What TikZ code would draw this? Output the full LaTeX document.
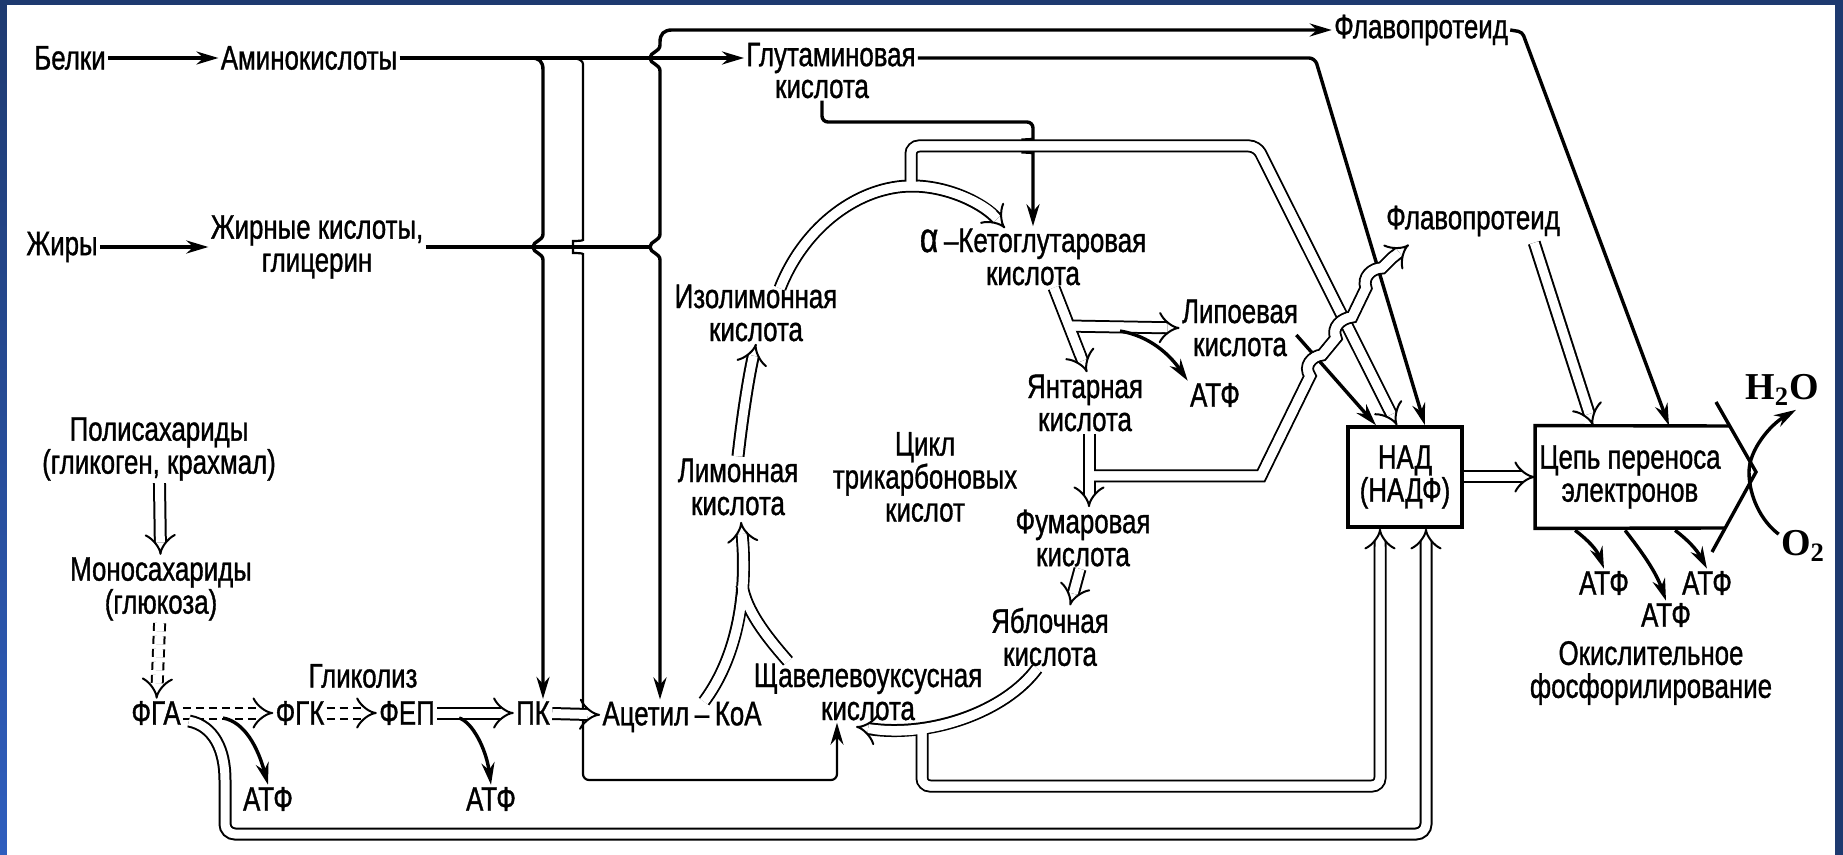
\documentclass[tikz,border=0pt]{standalone}
\usepackage{fontspec}
\setmainfont{Liberation Sans}[FakeStretch=0.76,FakeBold=1]
\newfontfamily\chemfont{Liberation Serif}
\usetikzlibrary{arrows.meta,calc}

\definecolor{framenavy}{HTML}{1E3A70}
\definecolor{frameblue}{HTML}{2F5EBE}

\newcommand\vhop[2]{-- (#1,#2-13) .. controls (#1,#2-6) and (#1-10,#2-6) .. (#1-10,#2) .. controls (#1-10,#2+6) and (#1,#2+6) .. (#1,#2+13)}

\begin{document}
\begin{tikzpicture}[x=0.5pt, y=-0.5pt,
  lbl/.style={align=center, inner sep=1pt, font=\fontsize{17}{16.5}\selectfont},
  chem/.style={inner sep=1pt, font=\chemfont\fontsize{19}{20}\selectfont\bfseries},
  link/.style={line width=1.7pt},
  thinlink/.style={line width=1.1pt},
  flow/.style={link, -{Stealth[length=11pt,width=6.5pt]}},
  dblline/.style={double, double distance=4.5pt, line width=1pt},
  dbl/.style={dblline, -{Implies}},
  dsh/.style={dbl, dash pattern=on 4pt off 2.5pt},
  core/.style={draw=white, line width=4.5pt, shorten >=9pt}]
\useasboundingbox (0,0) rectangle (1843,855);
\fill[framenavy] (0,0) rectangle (1843,855);
\shade[top color=framenavy, bottom color=frameblue] (0,0) rectangle (7,855);
\fill[white] (7,5) rectangle (1835,855);

\node[lbl] (belki) at (70,58) {Белки};
\node[lbl] (amino) at (309,58) {Аминокислоты};
\node[lbl] (zhiry) at (62,247) {Жиры};
\node[lbl] (zhk) at (317,247) {Жирные кислоты,\\глицерин};
\node[lbl] (glu) at (831,58) {Глутаминовая};
\node[lbl] (glukis) at (822,89) {кислота};
\node[lbl] (flavo1) at (1421,30) {Флавопротеид};
\node[lbl] (flavo2) at (1473,221) {Флавопротеид};
\node[lbl] (akg) at (1033,257) {{\fontsize{21}{16.5}\selectfont α}\,–Кетоглутаровая\\кислота};
\node[lbl] (iso) at (756,313) {Изолимонная\\кислота};
\node[lbl] (cit) at (738,487) {Лимонная\\кислота};
\node[lbl] (cycle) at (925,477) {Цикл\\трикарбоновых\\кислот};
\node[lbl] (succ) at (1085,403) {Янтарная\\кислота};
\node[lbl] (lipo) at (1240,328) {Липоевая\\кислота};
\node[lbl] (atp3) at (1215,395) {АТФ};
\node[lbl] (fum) at (1083,538) {Фумаровая\\кислота};
\node[lbl] (mal) at (1050,637) {Яблочная\\кислота};
\node[lbl] (oaa) at (868,692) {Щавелевоуксусная\\кислота};
\node[lbl] (acoa) at (682,717) {Ацетил\,–\,КоА};
\node[lbl] (pk) at (533,713) {ПК};
\node[lbl] (fep) at (407,713) {ФЕП};
\node[lbl] (fgk) at (300,713) {ФГК};
\node[lbl] (fga) at (156,713) {ФГА};
\node[lbl] (glyc) at (363,676) {Гликолиз};
\node[lbl] (atp1) at (268,799) {АТФ};
\node[lbl] (atp2) at (491,799) {АТФ};
\node[lbl] (poly) at (159,449) {Полисахариды\\(гликоген, крахмал)};
\node[lbl] (mono) at (161,589) {Моносахариды\\(глюкоза)};
\node[lbl, draw, line width=1.7pt, minimum width=57pt, minimum height=50pt] (nad) at (1405,477) {НАД\\(НАДФ)};
\node[lbl, minimum width=94.5pt, minimum height=51pt] (chain) at (1630,477) {Цепь переноса\\электронов};
\node[chem] (h2o) at (1782,390) {H\textsubscript{2}O};
\node[chem] (o2) at (1803,546) {O\textsubscript{2}};
\node[lbl] (atp4) at (1604,583) {АТФ};
\node[lbl] (atp5) at (1666,615) {АТФ};
\node[lbl] (atp6) at (1707,583) {АТФ};
\node[lbl] (oxphos) at (1651,673) {Окислительное\\фосфорилирование};

\coordinate (v1) at (543,58);
\coordinate (v3) at (660,30);

\draw[flow] (belki) -- (amino);
\draw[flow] (zhiry) -- (zhk);
\draw[flow] (amino) -- (glu);
\draw[link] (zhk.east) -- (650,247);
\draw[flow] (531,58) .. controls (539,58) and (543,61) .. (543,70) \vhop{543}{247} -- (v1 |- pk.north);
\draw[thinlink, -{Stealth[length=11pt,width=6.5pt]}, rounded corners=3pt] (571,58) .. controls (579,58) and (583,61) .. (583,70) \vhop{583}{247} -- (583,780) -- (837,780) -- ($(oaa.south)+(-31,0)$);
\draw[link, {Stealth[length=11pt,width=6.5pt]}-{Stealth[length=11pt,width=6.5pt]}] (flavo1.west) -- (672,30) .. controls (664,30) and (660,34) .. (660,42) \vhop{660}{58} \vhop{660}{247} -- (v3 |- acoa.north);

\draw[dbl] (poly) -- (mono);
\draw[dsh] (mono) -- (fga);
\draw[dsh] (fga) -- (fgk);
\draw[dsh] (fgk) -- (fep);
\draw[dbl] (fep) -- (pk);
\draw[dbl] (pk) -- (acoa);
\draw[flow] ($(fga.east)+(40,5)$) .. controls (245,722) and (258,748) .. (atp1.north);
\draw[flow] ($(fep.east)+(22,5)$) .. controls (472,722) and (486,748) .. (atp2.north);
\draw[dbl, rounded corners=5pt] ($(fga.east)+(6,8)$) .. controls (214,726) and (225,750) .. (225,790) -- (225,834) -- (1426,834) -- ($(nad.south)+(21,0)$);

\draw[dbl] ($(acoa.north)+(22,2)$) .. controls (735,660) and (748,600) .. ($(cit.south)+(3,4)$);
\draw[dblline] ($(oaa.north)+(-80,0)$) .. controls (765,635) and (746,610) .. (742,585);
\draw[core] ($(acoa.north)+(22,2)$) .. controls (735,660) and (748,600) .. ($(cit.south)+(3,4)$);
\draw[core, shorten >=0pt] ($(oaa.north)+(-80,0)$) .. controls (765,635) and (746,610) .. (742,585);
\draw[dbl] (cit.north) .. controls (742,420) and (748,380) .. (iso.south);

\draw[flow, rounded corners=3pt] (glu.east) -- (1315,58) -- ($(nad.north)+(20,0)$);
\draw[flow, rounded corners=3pt] (glukis.south) |- (1033,122) \vhop{1033}{146} -- (akg.north);

\draw[dbl] ($(iso.north)+(24,6)$) .. controls (805,225) and (860,186) .. (912,186) .. controls (950,186) and (985,205) .. ($(akg.north)+(-28,2)$);
\draw[dbl, rounded corners=4pt] (911,190) -- (911,146) -- (1257,146) -- ($(nad.north)+(-8,0)$);
\draw[core] ($(iso.north)+(24,6)$) .. controls (805,225) and (860,186) .. (912,186) .. controls (950,186) and (985,205) .. ($(akg.north)+(-28,2)$);
\draw[core, rounded corners=4pt] (911,190) -- (911,146) -- (1257,146) -- ($(nad.north)+(-8,0)$);

\draw[dbl] ($(akg.south)+(21,0)$) -- ($(succ.north)+(2,0)$);
\draw[dbl] (1067,326) -- (lipo.west);
\draw[core] ($(akg.south)+(21,0)$) -- ($(succ.north)+(2,0)$);
\draw[core] (1067,326) -- (lipo.west);
\draw[flow] (1120,331) .. controls (1150,336) and (1170,355) .. (atp3.north west);
\draw[flow] ($(lipo.east)+(-4,7)$) -- ($(nad.north)+(-29,0)$);

\draw[dbl] ($(succ.south)+(4,0)$) -- ($(fum.north)+(6,0)$);
\draw[dbl] (1089,476) -- (1261,476) -- (1310,376) .. controls (1303,366) and (1312,356) .. (1322,355) -- (1336,338) .. controls (1331,327) and (1342,318) .. (1352,317) -- (1366,288) .. controls (1362,277) and (1372,268) .. (1382,268) -- (1392,258) -- ($(flavo2.south west)+(25,6)$);
\draw[core] ($(succ.south)+(4,0)$) -- ($(fum.north)+(6,0)$);
\draw[core] (1089,476) -- (1261,476) -- (1310,376) .. controls (1303,366) and (1312,356) .. (1322,355) -- (1336,338) .. controls (1331,327) and (1342,318) .. (1352,317) -- (1366,288) .. controls (1362,277) and (1372,268) .. (1382,268) -- (1392,258) -- ($(flavo2.south west)+(25,6)$);

\draw[dbl] ($(fum.south)+(-3,0)$) -- ($(mal.north)+(20,0)$);
\draw[dbl] ($(mal.south)+(-13,0)$) .. controls (1005,712) and (930,738) .. ($(oaa.south)+(-12,4)$);
\draw[dbl, rounded corners=4pt] (922,727) -- (922,786) -- (1380,786) -- ($(nad.south)+(-25,0)$);
\draw[core] ($(mal.south)+(-13,0)$) .. controls (1005,712) and (930,738) .. ($(oaa.south)+(-12,4)$);
\draw[core, rounded corners=4pt] (922,727) -- (922,786) -- (1380,786) -- ($(nad.south)+(-25,0)$);

\draw[flow, rounded corners=2pt] (flavo1.east) -- ++(12,2) -- ($(chain.north)+(39,0)$);
\draw[dbl] ($(flavo2.south east)+(-28,4)$) -- ($(chain.north)+(-37,0)$);
\draw[dbl] (nad) -- (chain);
\draw[link] (1730,426) -- (chain.north west) -- (chain.south west) -- (1725,528);
\draw[link] (1716,402) -- (1756,472) -- (1712,552);
\draw[flow] ($(o2.north west)+(0,6)$) .. controls (1760,520) and (1749,495) .. (1749,472) .. controls (1749,450) and (1770,425) .. ($(h2o.south)+(14,2)$);
\draw[flow] ($(chain.south west)+(40,2)$) .. controls (1588,540) and (1597,550) .. (atp4.north);
\draw[flow] ($(chain.south west)+(90,2)$) .. controls (1642,552) and (1656,572) .. (atp5.north);
\draw[flow] ($(chain.south west)+(140,2)$) .. controls (1688,540) and (1697,550) .. (atp6.north);
\end{tikzpicture}
\end{document}
